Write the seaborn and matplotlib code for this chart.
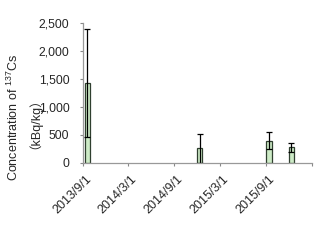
import matplotlib
matplotlib.use("Agg")
import matplotlib.pyplot as plt
import matplotlib.dates as mdates
import matplotlib.transforms as mtransforms
import seaborn as sns
import pandas as pd
from matplotlib.ticker import FuncFormatter

# data
sample_dates = ["2013-09-20", "2014-12-11", "2015-09-12", "2015-12-11"]
concentration = [1430, 258, 395, 278]
errors = [965, 255, 150, 78]
tick_dates = ["2013-09-01", "2014-03-01", "2014-09-01", "2015-03-01", "2015-09-01", "2016-03-01"]
tick_labels = ["2013/9/1", "2014/3/1", "2014/9/1", "2015/3/1", "2015/9/1", ""]

sns.set_style("white")
plt.rcParams['font.family'] = ['Liberation Sans', 'Noto Sans CJK JP', 'DejaVu Sans']

pos = [mdates.date2num(pd.Timestamp(d)) for d in sample_dates]
df = pd.DataFrame({"x": pos, "y": concentration})

fig = plt.figure(figsize=(3.2, 2.4), dpi=100)
ax = fig.add_axes([0.258, 0.322, 0.716, 0.581])

sns.barplot(data=df, x="x", y="y", native_scale=True, width=0.25,
            color="#cdebc6", edgecolor="#2f3f2f", linewidth=0.9,
            saturation=1, errorbar=None, ax=ax)
ax.errorbar(pos, concentration, yerr=errors, fmt="none", ecolor="black",
            elinewidth=0.9, capsize=2.2, capthick=0.9)

tpos = [mdates.date2num(pd.Timestamp(d)) for d in tick_dates]
ax.set_xlim(tpos[0], tpos[-1])
ax.set_xticks(tpos)
ax.set_xticklabels([])
offset = mtransforms.ScaledTranslation(7 / 100, -14.5 / 100, fig.dpi_scale_trans)
for xp, lab in zip(tpos, tick_labels):
    if lab:
        ax.text(xp, 0, lab, rotation=45, ha="right", va="center",
                rotation_mode="anchor", fontsize=9,
                transform=ax.get_xaxis_transform() + offset)
ax.set_ylim(0, 2500)
ax.set_yticks([0, 500, 1000, 1500, 2000, 2500])
ax.yaxis.set_major_formatter(FuncFormatter(lambda v, p: f"{int(v):,}"))
ax.tick_params(axis="y", labelsize=8.7, length=2.5, width=0.8, color="#888888", pad=7, direction="out", left=True)
ax.tick_params(axis="x", length=2.5, width=0.8, color="#888888", pad=0, direction="out", bottom=True)
ax.set_xlabel("")
ax.set_ylabel("")
for s in ["top", "right"]:
    ax.spines[s].set_visible(False)
for s in ["left", "bottom"]:
    ax.spines[s].set_color("#999999")
    ax.spines[s].set_linewidth(0.9)

fig.text(0.042, 0.51, "Concentration of $^{\\mathregular{137}}$Cs", rotation=90,
         ha="center", va="center", fontsize=9, family="Liberation Sans")
fig.text(0.09, 0.51, "（kBq/kg）", rotation=90, ha="center", va="center",
         fontsize=9, family=["Liberation Sans", "Noto Sans CJK JP"])

fig.savefig("out.png", dpi=100)
